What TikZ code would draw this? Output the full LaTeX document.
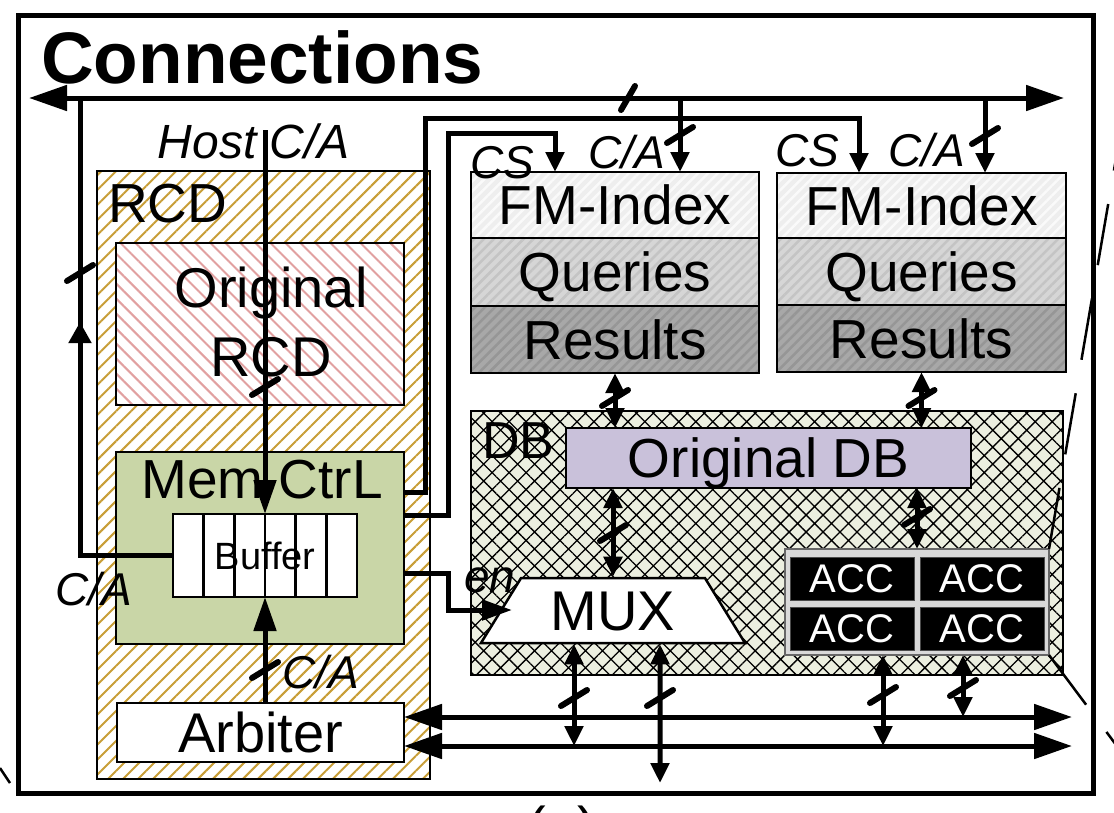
\documentclass[tikz,border=0pt]{standalone}
\usepackage{fontspec}
\setmainfont{Liberation Sans}
\usetikzlibrary{arrows.meta,patterns.meta,calc,decorations.markings,shapes.geometric}
\definecolor{goldst}{RGB}{200,158,55}
\definecolor{pinkst}{RGB}{225,160,160}
\definecolor{memgreen}{RGB}{201,214,167}
\definecolor{lav}{RGB}{201,193,218}
\definecolor{dbbg}{RGB}{236,239,224}
\definecolor{accbg}{RGB}{217,217,217}
\definecolor{fmA}{RGB}{238,238,238}
\definecolor{fmAs}{RGB}{250,250,250}
\definecolor{fmB}{RGB}{214,214,214}
\definecolor{fmBs}{RGB}{196,196,196}
\definecolor{fmC}{RGB}{168,168,168}
\definecolor{fmCs}{RGB}{150,150,150}
\newcommand{\fsz}[1]{\fontsize{#1}{#1}\selectfont}
\newcommand{\slsh}[2]{\draw[slash] ([shift={(-13,8)}]#1,#2) -- ([shift={(13,-8)}]#1,#2);}
\begin{document}
\begin{tikzpicture}[x=1pt,y=-1pt,
  box/.style={draw=black,line width=2.5pt,inner sep=0pt,outer sep=0pt},
  fnt/.style={font=\fsz{#1},text height={0.716*#1},text depth=0pt},
  lbl/.style={inner sep=0pt,font=\fsz{#1}\itshape},
  txt/.style={inner sep=0pt,font=\fsz{#1}},
  conn/.style={line width=5pt},
  aS/.style={>={Triangle[length=20pt,width=18pt]},->},
  dS/.style={>={Triangle[length=20pt,width=18pt]},<->},
  aM/.style={>={Triangle[length=34pt,width=22pt]},->},
  aE/.style={>={Triangle[length=30pt,width=20pt]},->},
  dB/.style={>={Triangle[length=38pt,width=25pt]},<->},
  slash/.style={line width=6pt,line cap=round},
  zoomln/.style={line width=2.5pt,dash pattern=on 62pt off 34pt},
  fmrow/.style 2 args={box,minimum width=288pt,preaction={fill=#1},pattern={Lines[angle=45,distance=7pt,line width=2.5pt]},pattern color=#2,fnt=55},
  acccell/.style={draw=black!70,line width=1pt,fill=black,text=white,inner sep=0pt,minimum width=124pt,minimum height=43pt,fnt=40},
]
\useasboundingbox (0,0) rectangle (1114,812);

% outer frame and title
\node[box,line width=5pt,minimum width=1075pt,minimum height=778pt] (frame) at (555.5,404) {};
\node[anchor=base west,inner sep=0pt,font=\fsz{73}\bfseries] (title) at (41,83) {Connections};

% RCD
\node[box,minimum width=333pt,minimum height=608pt,preaction={fill=white},
      pattern={Lines[angle=45,distance=10.6pt,line width=2pt]},pattern color=goldst] (rcd) at (263.5,475) {};
\node[txt=55,anchor=base west] (rcdl) at (108,222) {RCD};
\node[box,minimum width=288pt,minimum height=162pt,preaction={fill=white},
      pattern={Lines[angle=-45,distance=10.6pt,line width=2pt]},pattern color=pinkst] (orcd) at (260,324) {};
\node[inner sep=0pt,align=center,font=\fontsize{56}{69}\selectfont] (orcdl) at (271,322) {Original\\RCD};
\node[box,fill=memgreen,minimum width=288pt,minimum height=192pt] (mem) at (260,548) {};
\node[txt=55,anchor=base] (meml) at (262,498) {Mem CtrL};
\node[box,fill=white,minimum width=184pt,minimum height=83pt,fnt=38] (buf) at (265,555.5) {Buffer};
\foreach \k in {1,...,5}
  \draw[line width=2.5pt] ($(buf.north west)+(\k*30.667,0)$) -- ($(buf.south west)+(\k*30.667,0)$);
\node[box,fill=white,minimum width=287pt,minimum height=59pt,fnt=56] (arb) at (260.5,732.5) {Arbiter};

% FM-Index blocks
\node[fmrow={fmA}{fmAs},minimum height=66pt] (fmi1) at (615,205) {FM-Index};
\node[fmrow={fmB}{fmBs},minimum height=68pt] (fq1) at (615,272) {Queries};
\node[fmrow={fmC}{fmCs},minimum height=67pt] (fr1) at (615,339.5) {Results};
\node[fmrow={fmA}{fmAs},minimum height=65pt,minimum width=289pt] (fmi2) at (921.5,205.5) {FM-Index};
\node[fmrow={fmB}{fmBs},minimum height=67pt,minimum width=289pt] (fq2) at (921.5,271.5) {Queries};
\node[fmrow={fmC}{fmCs},minimum height=67pt,minimum width=289pt] (fr2) at (921.5,338.5) {Results};

% DB
\node[box,minimum width=592pt,minimum height=264pt,preaction={fill=dbbg},
      pattern={Hatch[angle=45,distance=12pt,line width=1.3pt]},pattern color=black] (db) at (767,543) {};
\node[txt=52,anchor=base west] (dbl) at (482,458) {DB};
\node[box,fill=lav,minimum width=405pt,minimum height=60pt,fnt=55] (odb) at (768.5,458) {Original DB};
\node[trapezium,trapezium angle=45,trapezium stretches body,draw=black,line width=2.5pt,fill=white,
      inner sep=0pt,minimum height=65pt,minimum width=264pt,fnt=56] (mux) at (613,610.5) {MUX};
\node[box,fill=accbg,draw=black!60,minimum width=264pt,minimum height=106pt] (acc) at (917,602) {};
\node[acccell] (acc1) at (852,578.5) {ACC};
\node[acccell] (acc2) at (982,578.5) {ACC};
\node[acccell] (acc3) at (852,628.5) {ACC};
\node[acccell] (acc4) at (982,628.5) {ACC};

% coordinates
\coordinate (busL) at (29,98);
\coordinate (busR) at (1064,98);
\coordinate (lv) at (80,98);
\coordinate (hostend) at (265,130);
\coordinate (cs1) at ($(fmi1.north west)+(84,0)$);
\coordinate (ca1) at ($(fmi1.north west)+(209,0)$);
\coordinate (cs2) at ($(fmi2.north west)+(82,0)$);
\coordinate (ca2) at ($(fmi2.north west)+(208,0)$);
\coordinate (muxin) at (512,610);
\coordinate (bA) at (1072,717);
\coordinate (bB) at (1072,746);
\coordinate (m1) at ($(mux.south)+(-39,0)$);
\coordinate (m2) at ($(mux.south)+(47,0)$);
\coordinate (a1) at ($(acc.south)+(-34,0)$);
\coordinate (a2) at ($(acc.south)+(46,0)$);
\coordinate (dn) at (660,783);

% connectors
\draw[conn,dB] (busL) -- (busR);
\draw[conn,postaction={decorate},decoration={markings,mark=at position 0.593 with {\arrow{Triangle[length=21pt,width=22pt]}}}] (buf.west) -| (lv);
\draw[conn,aM] (hostend) -- (buf.north);
\draw[conn,aM] (arb.north -| buf.south) -- (buf.south);
\draw[conn,aS] ($(mem.north east)+(0,40)$) -| (425,118) -| (cs2);
\draw[conn,aS] ($(mem.north east)+(0,63)$) -| (448,133) -| (cs1);
\draw[conn,aE] ($(mem.north east)+(0,121)$) -| (448,610) -- (muxin);
\draw[conn,aS] (ca1 |- busL) -- (ca1);
\draw[conn,aS] (ca2 |- busL) -- (ca2);
\draw[conn,dS] (fr1.south) -- (fr1.south |- odb.north);
\draw[conn,dS] (fr2.south) -- (fr2.south |- odb.north);
\draw[conn,dS] (odb.south -| mux.north) -- (mux.north);
\draw[conn,dS] (acc.north |- odb.south) -- (acc.north);
\draw[conn,dB] (arb.east |- bA) -- (bA);
\draw[conn,dB] (arb.east |- bB) -- (bB);
\draw[conn,dS] (m1) -- (m1 |- bB);
\draw[conn,dS] (m2) -- (dn);
\draw[conn,dS] (a1) -- (a1 |- bB);
\draw[conn,dS] (a2) -- (a2 |- bA);

% bus-width slashes
\draw[slash] ([shift={(-7,12)}]628,98) -- ([shift={(7,-12)}]628,98);
\slsh{80}{273}
\slsh{265}{387}
\slsh{265}{670}
\slsh{680}{135}
\slsh{985}{136}
\slsh{615}{398}
\slsh{921.5}{398}
\slsh{613}{533}
\slsh{917}{517}
\slsh{574}{698}
\slsh{660}{698}
\slsh{883}{695}
\slsh{963}{688}

% labels
\node[lbl=48,anchor=base] (hostl) at (254,158) {Host C/A};
\node[lbl=46,anchor=base west] (cal) at (55,605) {C/A};
\node[lbl=46,anchor=base west] (caarb) at (282,688) {C/A};
\node[lbl=46,anchor=base west] (csl1) at (470,178) {CS};
\node[lbl=46,anchor=base west] (cal1) at (588,168) {C/A};
\node[lbl=46,anchor=base west] (csl2) at (775,166) {CS};
\node[lbl=46,anchor=base west] (cal2) at (888,166) {C/A};
\node[lbl=46,anchor=base west] (enl) at (464,592) {en};

% zoom lines and cut caption
\draw[zoomln] (acc.north east) -- ++(70,-408);
\draw[zoomln] (acc.south east) -- ++(100,134);
\draw[line width=2.5pt] (0,768) -- (10,783);
\node[txt=56,anchor=base] (cap) at (562,846) {(a)};
\end{tikzpicture}
\end{document}
